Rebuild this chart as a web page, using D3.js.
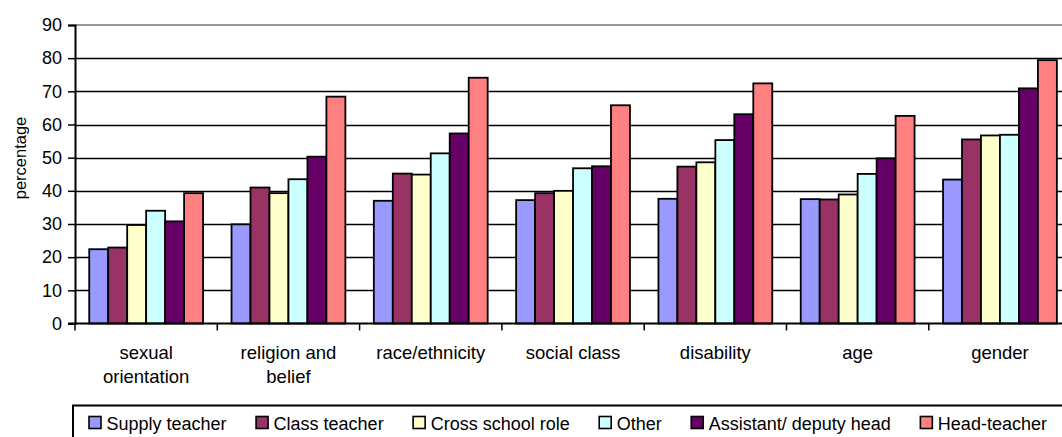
<!DOCTYPE html>
<html>
<head>
<meta charset="utf-8">
<script src="https://cdn.jsdelivr.net/npm/d3@7"></script>
<style>
  body { margin: 0; background: #fff; }
  svg { display: block; font-family: "Liberation Sans", Arial, sans-serif; }
</style>
</head>
<body>
<div id="chart"></div>
<script>
// categories along the x axis (multi-line labels split on |)
var categories = ["sexual|orientation", "religion and|belief", "race/ethnicity", "social class", "disability", "age", "gender"];
var seriesNames = ["Supply teacher", "Class teacher", "Cross school role", "Other", "Assistant/ deputy head", "Head-teacher"];
var seriesColors = ["#9999ff", "#993366", "#ffffcc", "#ccffff", "#660066", "#ff8080"];

// values per series, one per category
var supplyTeacher = [22.4, 29.9, 37.0, 37.2, 37.6, 37.5, 43.4];
var classTeacher  = [22.9, 41.0, 45.2, 39.3, 47.3, 37.4, 55.5];
var crossSchool   = [29.7, 39.3, 44.9, 40.0, 48.6, 38.9, 56.7];
var other         = [34.0, 43.5, 51.3, 46.8, 55.3, 45.1, 56.9];
var assistantHead = [30.8, 50.3, 57.3, 47.4, 63.1, 49.8, 70.9];
var headTeacher   = [39.3, 68.4, 74.1, 65.8, 72.4, 62.6, 79.4];

var yTicks = [0, 10, 20, 30, 40, 50, 60, 70, 80, 90];

var seriesValues = [supplyTeacher, classTeacher, crossSchool, other, assistantHead, headTeacher];

var width = 1062, height = 437;
var plotLeft = 75, catW = 142.3;
var plotTop = 25, plotBottom = 323.5;

var svg = d3.select("#chart").append("svg")
  .attr("width", width)
  .attr("height", height);

svg.append("rect").attr("width", width).attr("height", height).attr("fill", "#fff");

var x0 = d3.scaleBand()
  .domain(categories)
  .range([plotLeft, plotLeft + catW * categories.length])
  .paddingInner(0).paddingOuter(0);

var x1 = d3.scaleBand()
  .domain(d3.range(seriesNames.length))
  .range([0, x0.bandwidth()])
  .paddingInner(0).paddingOuter(0.75);

var y = d3.scaleLinear().domain([0, 90]).range([plotBottom, plotTop]);

// gridlines
svg.append("g")
  .selectAll("line")
  .data(yTicks.filter(function (t) { return t > 0 && t < 90; }))
  .enter().append("line")
  .attr("x1", plotLeft).attr("x2", width)
  .attr("y1", function (d) { return Math.round(y(d)) + 0.5; })
  .attr("y2", function (d) { return Math.round(y(d)) + 0.5; })
  .attr("stroke", "#000").attr("stroke-width", 1.4);

// top border of plot area
svg.append("line")
  .attr("x1", plotLeft).attr("x2", width)
  .attr("y1", y(90)).attr("y2", y(90))
  .attr("stroke", "#999").attr("stroke-width", 2);

// bars
var groups = svg.append("g")
  .selectAll("g")
  .data(categories)
  .enter().append("g")
  .attr("transform", function (d) { return "translate(" + x0(d) + ",0)"; });

groups.selectAll("rect")
  .data(function (d, ci) {
    return seriesValues.map(function (vals, si) { return { s: si, v: vals[ci] }; });
  })
  .enter().append("rect")
  .attr("x", function (d) { return x1(d.s); })
  .attr("width", x1.bandwidth())
  .attr("y", function (d) { return y(d.v); })
  .attr("height", function (d) { return y(0) - y(d.v); })
  .attr("fill", function (d) { return seriesColors[d.s]; })
  .attr("stroke", "#000")
  .attr("stroke-width", 1.8);

// y axis
var yAxis = svg.append("g")
  .attr("transform", "translate(" + plotLeft + ",0)")
  .call(d3.axisLeft(y).tickValues(yTicks).tickSize(7).tickPadding(6));
yAxis.select(".domain").attr("stroke", "#000").attr("stroke-width", 2);
yAxis.selectAll(".tick line").attr("stroke", "#000").attr("stroke-width", 1.5);
yAxis.selectAll(".tick text")
  .attr("font-size", 18).attr("fill", "#000")
  .attr("font-family", "Liberation Sans, Arial, sans-serif");

// x axis line and boundary ticks
svg.append("line")
  .attr("x1", plotLeft - 7).attr("x2", width)
  .attr("y1", plotBottom).attr("y2", plotBottom)
  .attr("stroke", "#000").attr("stroke-width", 2);

svg.append("g")
  .selectAll("line")
  .data(categories)
  .enter().append("line")
  .attr("x1", function (d) { return x0(d); })
  .attr("x2", function (d) { return x0(d); })
  .attr("y1", plotBottom).attr("y2", plotBottom + 7)
  .attr("stroke", "#000").attr("stroke-width", 1.5);

// category labels
var labels = svg.append("g")
  .selectAll("text")
  .data(categories)
  .enter().append("text")
  .attr("x", function (d) { return x0(d) + x0.bandwidth() / 2; })
  .attr("y", 359)
  .attr("text-anchor", "middle")
  .attr("font-size", 18.5)
  .attr("fill", "#000");

labels.selectAll("tspan")
  .data(function (d) { return d.split("|"); })
  .enter().append("tspan")
  .attr("x", function () { return d3.select(this.parentNode).attr("x"); })
  .attr("dy", function (d, i) { return i === 0 ? 0 : 24; })
  .text(function (d) { return d; });

// y axis title
svg.append("text")
  .attr("transform", "translate(26,158) rotate(-90)")
  .attr("text-anchor", "middle")
  .attr("font-size", 16.5)
  .attr("fill", "#000")
  .text("percentage");

// legend
var legend = svg.append("g");
legend.append("rect")
  .attr("x", 73).attr("y", 405.5)
  .attr("width", 1100).attr("height", 60)
  .attr("fill", "#fff")
  .attr("stroke", "#000").attr("stroke-width", 2);

var lx = 89;
seriesNames.forEach(function (name, i) {
  var item = legend.append("g").attr("transform", "translate(" + lx + ",0)");
  item.append("rect")
    .attr("x", 0).attr("y", 416.5)
    .attr("width", 12).attr("height", 12)
    .attr("fill", seriesColors[i])
    .attr("stroke", "#000").attr("stroke-width", 1.6);
  var t = item.append("text")
    .attr("x", 17.5).attr("y", 429.5)
    .attr("font-size", 18)
    .attr("fill", "#000")
    .text(name);
  lx += 17.5 + t.node().getComputedTextLength() + 29.5;
});
</script>
</body>
</html>
